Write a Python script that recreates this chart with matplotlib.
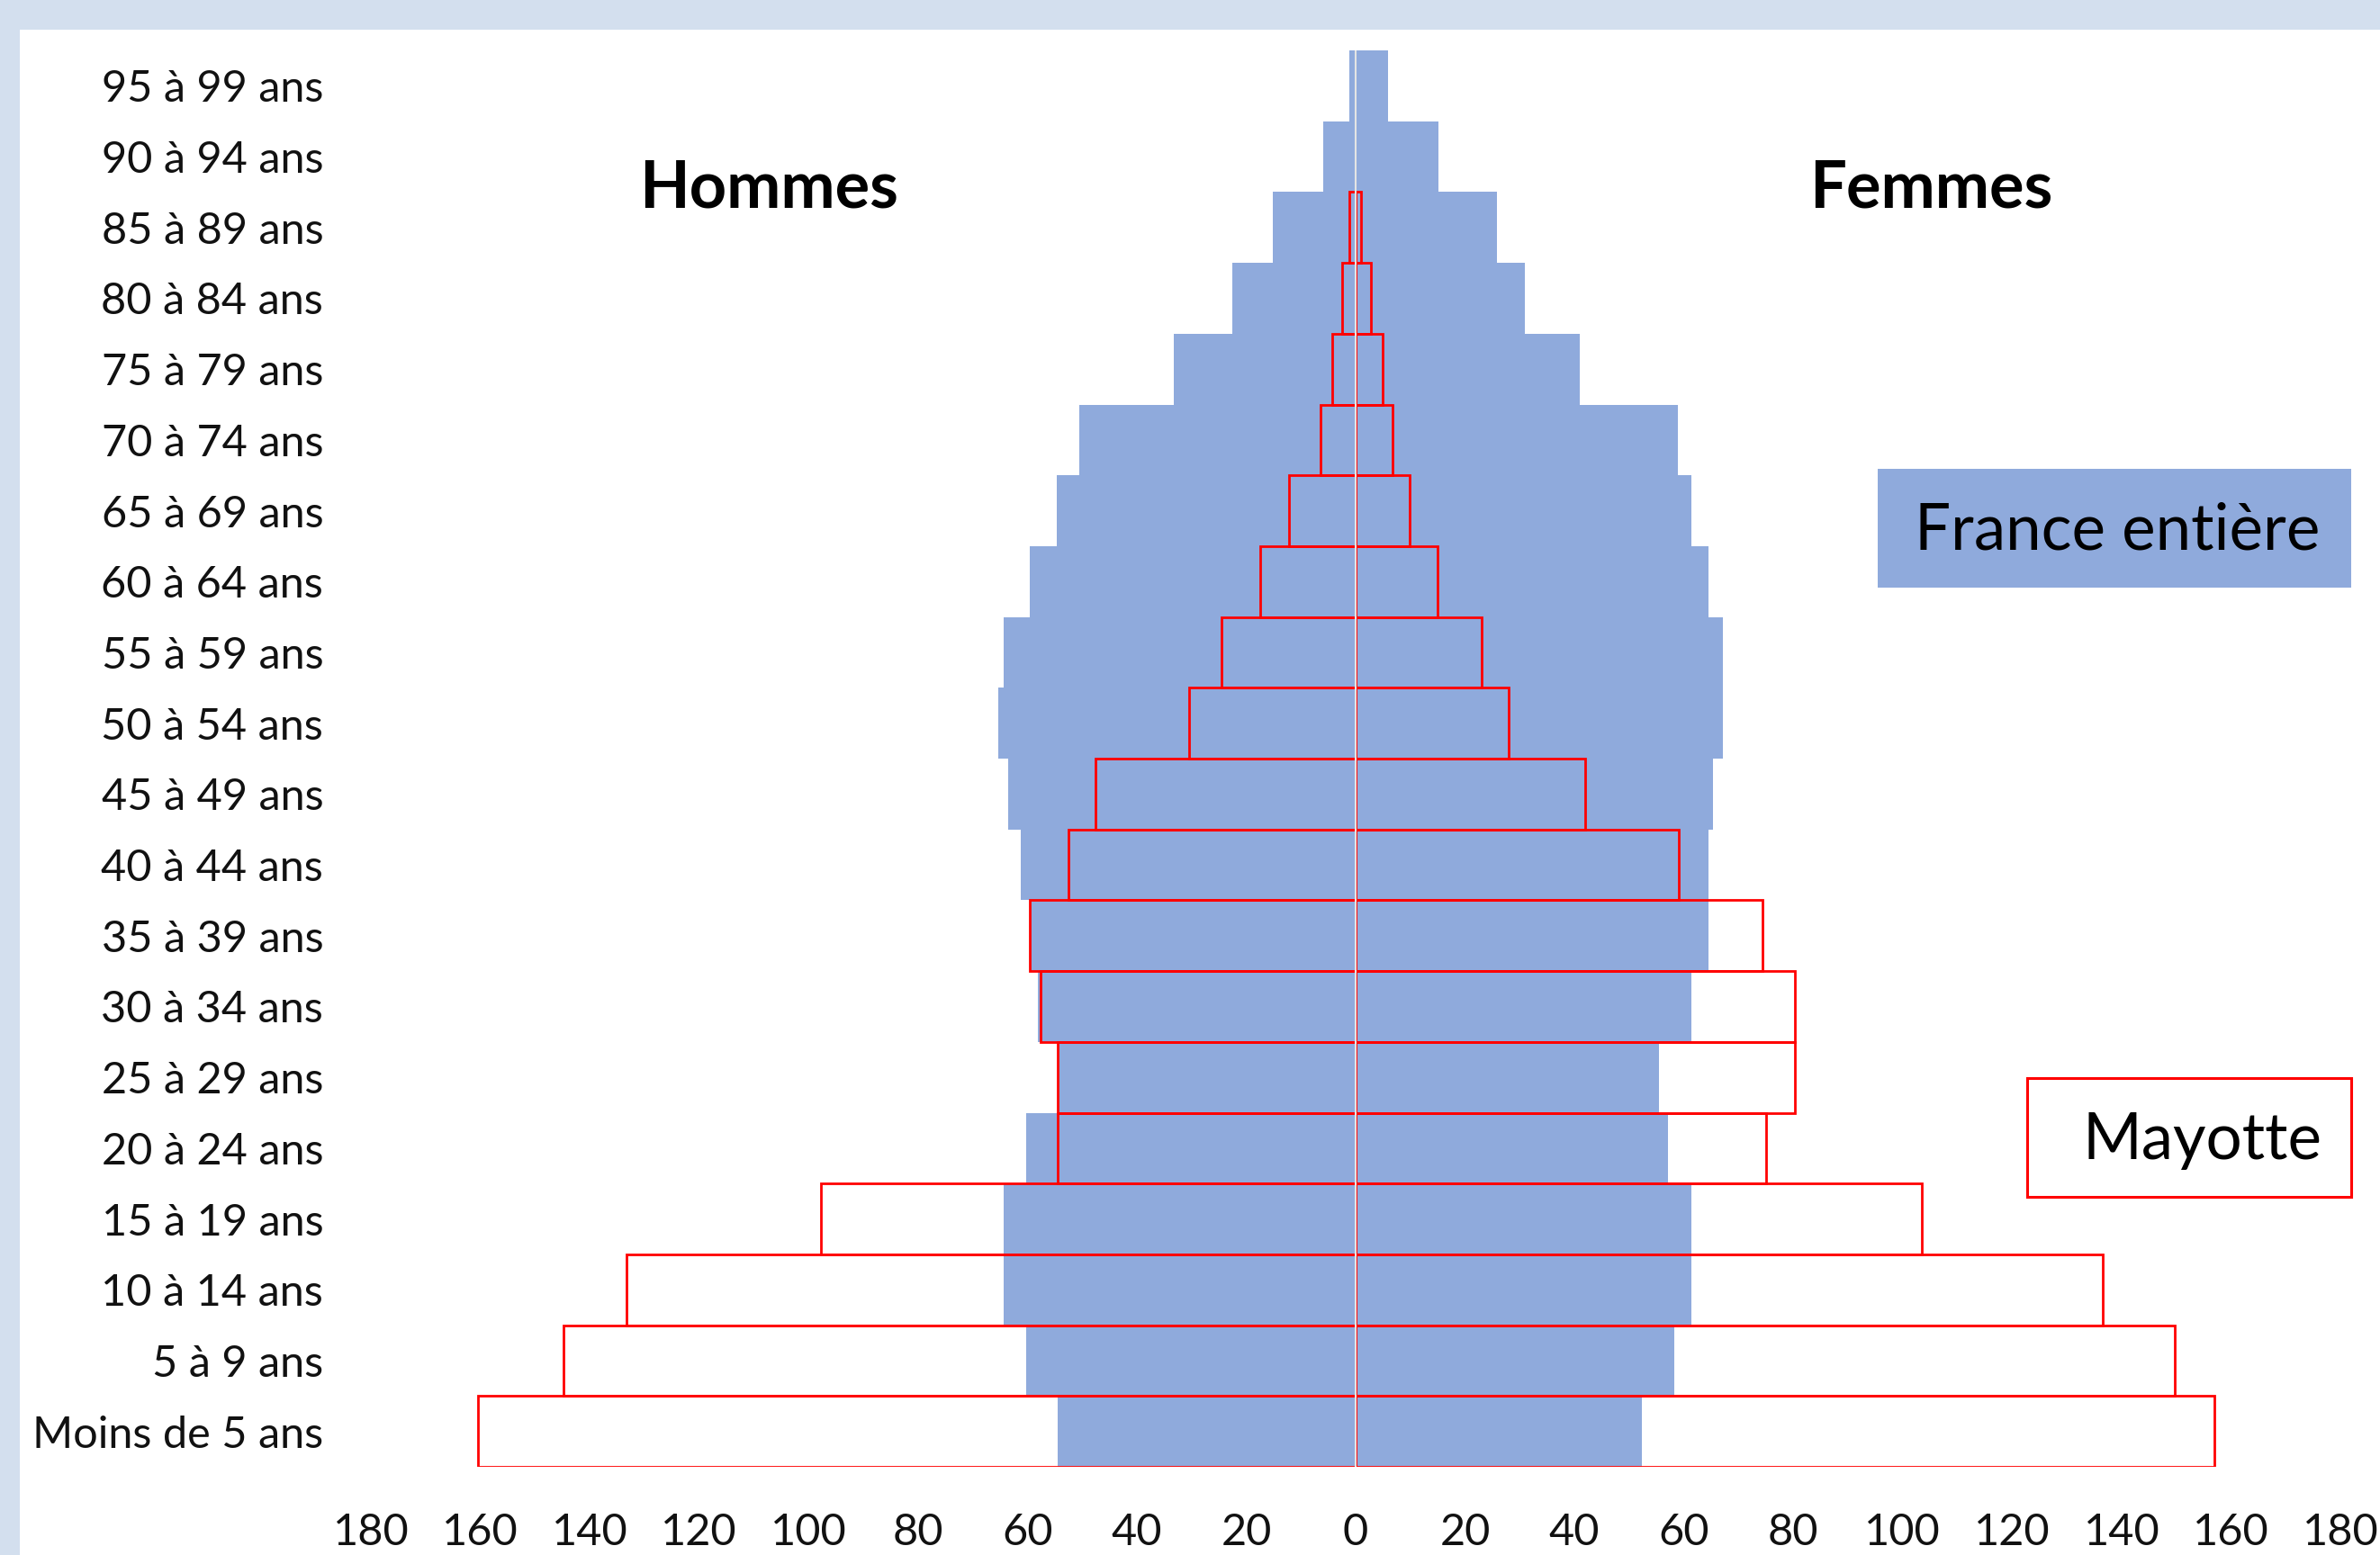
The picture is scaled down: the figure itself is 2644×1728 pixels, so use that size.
import matplotlib
matplotlib.use("Agg")
import matplotlib.pyplot as plt
from matplotlib.patches import Rectangle
import numpy as np

# tranches d'age, de bas en haut
ages = ["Moins de 5 ans", "5 à 9 ans", "10 à 14 ans", "15 à 19 ans", "20 à 24 ans",
        "25 à 29 ans", "30 à 34 ans", "35 à 39 ans", "40 à 44 ans", "45 à 49 ans",
        "50 à 54 ans", "55 à 59 ans", "60 à 64 ans", "65 à 69 ans", "70 à 74 ans",
        "75 à 79 ans", "80 à 84 ans", "85 à 89 ans", "90 à 94 ans", "95 à 99 ans"]

france_hommes = [54.4, 60.3, 64.3, 64.3, 60.3, 54.4, 58.0, 59.5, 61.2, 63.5,
                 65.3, 64.4, 59.5, 54.6, 50.5, 33.2, 22.5, 15.1, 6.0, 1.1]
france_femmes = [52.3, 58.2, 61.4, 61.4, 57.1, 55.4, 61.4, 64.5, 64.5, 65.3,
                 67.2, 67.2, 64.5, 61.3, 58.9, 40.9, 30.9, 25.9, 15.2, 6.0]
mayotte_hommes = [160.4, 144.8, 133.2, 97.8, 54.4, 54.4, 57.6, 59.5, 52.5, 47.5,
                  30.4, 24.5, 17.4, 12.2, 6.4, 4.3, 2.4, 1.1, 0, 0]
mayotte_femmes = [156.9, 149.7, 136.6, 103.5, 75.1, 80.3, 80.3, 74.3, 59.1, 42.0,
                  28.0, 23.0, 14.9, 9.8, 6.7, 4.9, 2.75, 0.95, 0, 0]

x_ticks = list(range(-180, 181, 20))

BLEU = "#8FAADC"
ROUGE = "#FF0000"
FOND = "#D3DFEE"
W, H = 2644, 1728

plt.rcParams['font.family'] = ['Lato', 'DejaVu Sans']

fig = plt.figure(figsize=(W / 100, H / 100), dpi=100)
fig.patch.set_facecolor("white")

# bandeaux bleu clair en haut et a gauche
fig.patches.append(Rectangle((0, 1 - 33 / H), 1, 33 / H, transform=fig.transFigure,
                             facecolor=FOND, edgecolor="none", zorder=0))
fig.patches.append(Rectangle((0, 0), 22 / W, 1, transform=fig.transFigure,
                             facecolor=FOND, edgecolor="none", zorder=0))

ax = fig.add_axes([412 / W, (H - 1630) / H, (2600 - 412) / W, (1630 - 56) / H])

y = np.arange(len(ages))
fh = -np.array(france_hommes)
ff = np.array(france_femmes)
mh = -np.array(mayotte_hommes)
mf = np.array(mayotte_femmes)

ax.barh(y, fh, height=1.0, color=BLEU, zorder=1)
ax.barh(y, ff, height=1.0, color=BLEU, zorder=1)

ok = np.array(mayotte_hommes) > 0
ax.barh(y[ok], mh[ok], height=1.0, facecolor="none", edgecolor=ROUGE, linewidth=2.0, zorder=3)
ok = np.array(mayotte_femmes) > 0
ax.barh(y[ok], mf[ok], height=1.0, facecolor="none", edgecolor=ROUGE, linewidth=2.0, zorder=3)

ax.axvline(0, color="#E4E4E4", linewidth=1.5, zorder=4)

ax.set_xlim(-180, 180)
ax.set_ylim(-0.5, len(ages) - 0.5)
ax.set_xticks(x_ticks)
ax.set_xticklabels([str(abs(v)) for v in x_ticks])
ax.set_yticks(y)
ax.set_yticklabels(ages)
ax.tick_params(axis='x', length=0, pad=37, labelsize=35, labelcolor="#111111")
ax.tick_params(axis='y', length=0, pad=38, labelsize=35, labelcolor="#111111")
for s in ax.spines.values():
    s.set_visible(False)
ax.set_facecolor("none")

# titres Hommes / Femmes
fig.text(854 / W, 1 - 210 / H, "Hommes", fontsize=52, fontweight="bold",
         ha="center", va="center")
fig.text(2145 / W, 1 - 210 / H, "Femmes", fontsize=52, fontweight="bold",
         ha="center", va="center")

# cartouche France entiere
fig.patches.append(Rectangle((2086 / W, 1 - 653 / H), (2612 - 2086) / W, (653 - 521) / H,
                             transform=fig.transFigure, facecolor=BLEU,
                             edgecolor="none", zorder=5))
fig.text(2352 / W, 1 - 590 / H, "France entière", fontsize=51,
         ha="center", va="center", zorder=6)

# cartouche Mayotte
fig.patches.append(Rectangle((2252 / W, 1 - 1330 / H), (2612 - 2252) / W, (1330 - 1198) / H,
                             transform=fig.transFigure, facecolor="white",
                             edgecolor=ROUGE, linewidth=2.2, zorder=5))
fig.text(2446 / W, 1 - 1267 / H, "Mayotte", fontsize=51,
         ha="center", va="center", zorder=6)

fig.savefig("out.png", dpi=100)
